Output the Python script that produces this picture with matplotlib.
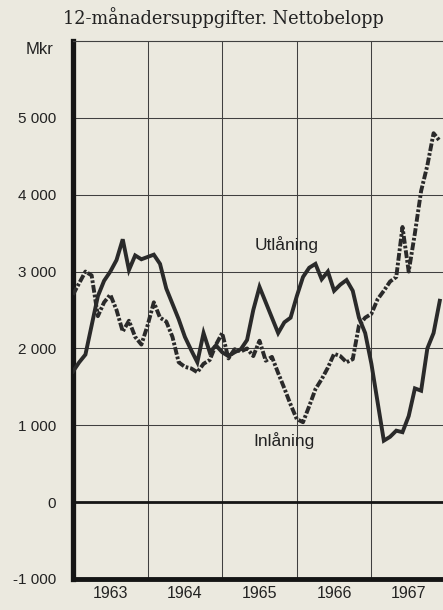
import matplotlib
matplotlib.use("Agg")
import matplotlib.pyplot as plt
import numpy as np

# ---- data (monthly, Jan 1963 - Dec 1967), Mkr ----
years = [1963, 1964, 1965, 1966, 1967]
months = np.arange(60)

utlaning = [1700, 1820, 1920, 2300, 2680, 2880, 3000, 3150, 3420, 3020, 3210, 3160,
            3190, 3220, 3100, 2780, 2580, 2380, 2150, 1980, 1820, 2200, 1950, 2040,
            1950, 1900, 1950, 1990, 2110, 2500, 2800, 2600, 2400, 2200, 2340, 2400,
            2680, 2930, 3050, 3100, 2900, 3000, 2750, 2830, 2890, 2750, 2400, 2200,
            1800, 1300, 800, 850, 930, 910, 1120, 1480, 1450, 2000, 2200, 2620]

inlaning = [2700, 2850, 3000, 2950, 2420, 2600, 2700, 2500, 2220, 2360, 2150, 2050,
            2300, 2600, 2400, 2350, 2150, 1820, 1760, 1740, 1690, 1800, 1850, 2050,
            2200, 1870, 1990, 1960, 2000, 1900, 2100, 1840, 1890, 1680, 1480, 1270,
            1080, 1040, 1250, 1470, 1600, 1750, 1930, 1900, 1820, 1860, 2300, 2400,
            2450, 2640, 2750, 2870, 2930, 3580, 3000, 3500, 4050, 4380, 4800, 4700]

ytick_vals = [-1000, 0, 1000, 2000, 3000, 4000, 5000]
ytick_labels = ["-1 000", "0", "1 000", "2 000", "3 000", "4 000", "5 000"]
title = "12-månadersuppgifter. Nettobelopp"
label_ut = "Utlåning"
label_in = "Inlåning"

# ---- figure ----
W, H = 443, 610
bg = "#ebe9df"
fig = plt.figure(figsize=(W / 100, H / 100), dpi=100, facecolor=bg)
ax = fig.add_axes([73 / W, 31 / H, 373 / W, 538 / H], facecolor=bg)

x = years[0] + months / 12.0
ink = "#2a2a2a"
ax.plot(x, utlaning, color=ink, lw=2.8, solid_joinstyle="miter", zorder=3)
ax.plot(x, inlaning, color=ink, lw=2.8, linestyle=(0, (2.0, 0.5, 0.7, 0.5)), zorder=3)

ax.set_xlim(1963, 1968)
ax.set_ylim(-1000, 6000)

# grid
ax.set_xticks([1964, 1965, 1966, 1967])
ax.set_xticklabels([])
ax.set_xticks([y + 0.5 for y in years], minor=True)
ax.set_xticklabels([str(y) for y in years], minor=True,
                   fontfamily="Liberation Sans", fontsize=11.5, color="#222")
ax.set_yticks(ytick_vals)
ax.set_yticklabels(ytick_labels, fontfamily="Liberation Sans", fontsize=11, color="#222")
ax.tick_params(axis="both", which="both", length=0)
ax.tick_params(axis="y", pad=12)
ax.tick_params(axis="x", which="minor", pad=5)
ax.grid(True, which="major", color="#404040", lw=0.75)
ax.axhline(0, color="#151515", lw=2.0, zorder=2)

ax.spines["right"].set_visible(False)
ax.spines["top"].set_linewidth(0.8)
ax.spines["top"].set_color("#404040")
ax.spines["left"].set_linewidth(3.8)
ax.spines["left"].set_color("#151515")
ax.spines["bottom"].set_linewidth(3.5)
ax.spines["bottom"].set_color("#151515")

ax.text(1965.43, 3346, label_ut, fontfamily="Liberation Sans", fontsize=12.5,
        color="#222", ha="left", va="center")
ax.text(1965.42, 807, label_in, fontfamily="Liberation Sans", fontsize=12.5,
        color="#222", ha="left", va="center")

fig.text(40 / W, 1 - 50 / H, "Mkr", fontfamily="Liberation Sans", fontsize=12,
         color="#222", ha="center", va="center")
fig.text(223 / W, 1 - 18 / H, title, fontfamily="DejaVu Serif", fontsize=12.8,
         color="#222", ha="center", va="center")

fig.savefig("out.png", dpi=100, facecolor=bg)
